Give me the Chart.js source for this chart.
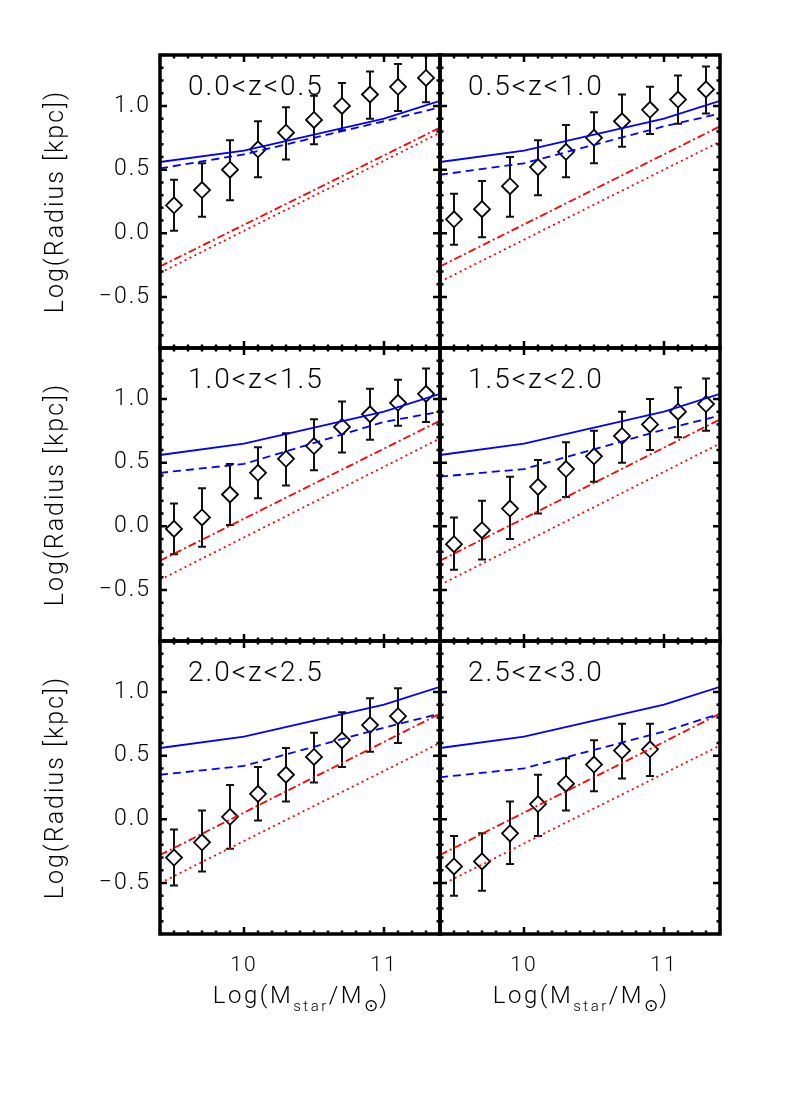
<!DOCTYPE html>
<html lang="en">
<head>
  <meta charset="UTF-8" />
  <title>Log(Radius) vs Log(Mstar) in redshift bins</title>
  <script src="https://cdn.jsdelivr.net/npm/chart.js@4.4.0/dist/chart.umd.min.js"></script>
  <style>
    body { margin: 0; background: #fff; }
    #wrap { position: relative; width: 800px; height: 1100px; }
    #wrap canvas { position: absolute; }
  </style>
</head>
<body>
<div id="wrap"></div>
<script>
  // panel labels (left to right, top to bottom)
  const zLabels = ['0.0<z<0.5', '0.5<z<1.0', '1.0<z<1.5', '1.5<z<2.0', '2.0<z<2.5', '2.5<z<3.0'];

  // observed median sizes per mass bin
  const massBins = [9.5, 9.7, 9.9, 10.1, 10.3, 10.5, 10.7, 10.9, 11.1, 11.3];
  const radiusMed = [
    [0.22, 0.34, 0.50, 0.66, 0.79, 0.89, 1.00, 1.09, 1.15, 1.22],
    [0.11, 0.19, 0.37, 0.52, 0.64, 0.75, 0.88, 0.97, 1.05, 1.13],
    [-0.02, 0.07, 0.25, 0.42, 0.53, 0.63, 0.78, 0.88, 0.97, 1.04],
    [-0.14, -0.03, 0.14, 0.31, 0.45, 0.55, 0.71, 0.80, 0.90, 0.96],
    [-0.30, -0.18, 0.02, 0.20, 0.35, 0.49, 0.62, 0.74, 0.81],
    [-0.37, -0.33, -0.11, 0.12, 0.28, 0.43, 0.54, 0.55]
  ];
  const radiusLo = [
    [0.02, 0.13, 0.26, 0.44, 0.58, 0.70, 0.81, 0.90, 0.96, 1.03],
    [-0.09, -0.03, 0.13, 0.30, 0.44, 0.55, 0.68, 0.78, 0.86, 0.94],
    [-0.22, -0.16, 0.01, 0.22, 0.32, 0.44, 0.58, 0.68, 0.79, 0.82],
    [-0.34, -0.26, -0.10, 0.10, 0.23, 0.35, 0.50, 0.60, 0.70, 0.75],
    [-0.52, -0.41, -0.23, -0.01, 0.14, 0.29, 0.41, 0.53, 0.60],
    [-0.60, -0.56, -0.35, -0.13, 0.07, 0.22, 0.32, 0.34]
  ];
  const radiusHi = [
    [0.42, 0.55, 0.73, 0.88, 0.99, 1.08, 1.18, 1.27, 1.33, 1.42],
    [0.31, 0.41, 0.60, 0.73, 0.85, 0.95, 1.09, 1.15, 1.24, 1.31],
    [0.18, 0.30, 0.49, 0.62, 0.73, 0.84, 0.98, 1.08, 1.15, 1.24],
    [0.07, 0.20, 0.39, 0.52, 0.66, 0.75, 0.90, 1.00, 1.09, 1.16],
    [-0.08, 0.07, 0.27, 0.41, 0.56, 0.68, 0.84, 0.95, 1.03],
    [-0.13, -0.11, 0.14, 0.35, 0.48, 0.62, 0.75, 0.75]
  ];

  // model relations
  const modelMass = [9.4, 10.0, 11.0, 11.4];
  const solidBlue = [0.56, 0.65, 0.90, 1.04];
  const dashedBlue = [
    [0.51, 0.62, 0.88, 0.99],
    [0.46, 0.55, 0.84, 0.94],
    [0.42, 0.49, 0.82, 0.90],
    [0.39, 0.45, 0.76, 0.87],
    [0.35, 0.42, 0.72, 0.83],
    [0.33, 0.40, 0.69, 0.83]
  ];
  const lineMass = [9.4, 11.4];
  const dashDotRed = [
    [-0.26, 0.83], [-0.26, 0.84], [-0.27, 0.83], [-0.27, 0.84], [-0.28, 0.83], [-0.28, 0.83]
  ];
  const dottedRed = [
    [-0.31, 0.79], [-0.38, 0.72], [-0.42, 0.69], [-0.46, 0.65], [-0.50, 0.60], [-0.52, 0.58]
  ];

  const xTicks = [10, 11];
  const yTicks = [-0.5, 0.0, 0.5, 1.0];

  // layout
  const colLeft = [160, 440], rowTop = [55, 348, 641];
  const PW = 280, PH = 293;
  const padL = 130, padT = 10, padR = 10, padB = 90;

  const FAM = 'Roboto, "Liberation Sans", sans-serif';
  Chart.defaults.font.family = FAM;
  Chart.defaults.font.weight = '300';
  Chart.defaults.color = '#000';

  const pts = (xs, ys) => xs.map((x, k) => ({ x: x, y: ys[k] }));

  function drawTicks(ctx, scale, a, horizontal, majors) {
    const n = Math.round((scale.max - scale.min) / 0.1);
    for (let k = 0; k <= n; k++) {
      const v = scale.min + k * 0.1;
      const isMajor = majors.some(m => Math.abs(m - v) < 1e-6);
      const len = isMajor ? 7 : 3.5;
      const p = scale.getPixelForValue(v);
      ctx.beginPath();
      if (horizontal) {
        ctx.moveTo(p, a.bottom); ctx.lineTo(p, a.bottom - len);
        ctx.moveTo(p, a.top); ctx.lineTo(p, a.top + len);
      } else {
        ctx.moveTo(a.left, p); ctx.lineTo(a.left + len, p);
        ctx.moveTo(a.right, p); ctx.lineTo(a.right - len, p);
      }
      ctx.stroke();
    }
  }

  function decor(i, row, col) {
    return {
      id: 'decor' + i,
      beforeDraw(chart) {
        chart.ctx.letterSpacing = '2px';
      },
      beforeDatasetsDraw(chart) {
        // error bars
        const { ctx, chartArea: a, scales: { x, y } } = chart;
        ctx.save();
        ctx.beginPath(); ctx.rect(a.left, a.top, a.width, a.height); ctx.clip();
        ctx.strokeStyle = '#111'; ctx.lineWidth = 2;
        radiusMed[i].forEach((m, k) => {
          const px = x.getPixelForValue(massBins[k]);
          const top = y.getPixelForValue(radiusHi[i][k]);
          const bot = y.getPixelForValue(radiusLo[i][k]);
          ctx.beginPath();
          ctx.moveTo(px, top); ctx.lineTo(px, bot);
          ctx.moveTo(px - 4, top); ctx.lineTo(px + 4, top);
          ctx.moveTo(px - 4, bot); ctx.lineTo(px + 4, bot);
          ctx.stroke();
        });
        ctx.restore();
      },
      afterDatasetsDraw(chart) {
        const { ctx, chartArea: a, scales: { x, y } } = chart;
        ctx.save();
        ctx.strokeStyle = '#000';
        ctx.lineWidth = 2.5;
        drawTicks(ctx, x, a, true, xTicks);
        drawTicks(ctx, y, a, false, yTicks);
        ctx.lineWidth = 3.5;
        ctx.strokeRect(a.left, a.top, a.width, a.height);

        // redshift label
        ctx.fillStyle = '#000';
        ctx.font = '300 28px ' + FAM;
        ctx.letterSpacing = '2px';
        ctx.textBaseline = 'alphabetic';
        ctx.textAlign = 'left';
        ctx.fillText(zLabels[i], a.left + 28, a.top + 40);

        // x axis title with subscripts
        if (row === 2) {
          const parts = [
            { t: 'Log(M', f: '300 24px ' + FAM, dy: 0, ls: '2.5px' },
            { t: 'star', f: '300 15px ' + FAM, dy: 8, ls: '2.5px' },
            { t: '/M', f: '300 24px ' + FAM, dy: 0, ls: '2.5px' },
            { t: '\u2299', f: '17px "DejaVu Sans"', dy: 8, ls: '1px' },
            { t: ')', f: '300 24px ' + FAM, dy: 0, ls: '0px' }
          ];
          let total = 0;
          parts.forEach(p => { ctx.font = p.f; ctx.letterSpacing = p.ls; p.w = ctx.measureText(p.t).width; total += p.w; });
          let cx = (a.left + a.right) / 2 - total / 2;
          const base = a.bottom + 69;
          parts.forEach(p => {
            ctx.font = p.f; ctx.letterSpacing = p.ls;
            ctx.fillText(p.t, cx, base + p.dy);
            cx += p.w;
          });
        }
        ctx.restore();
      }
    };
  }

  const wrap = document.getElementById('wrap');

  zLabels.forEach((label, i) => {
    const row = Math.floor(i / 2), col = i % 2;
    const cv = document.createElement('canvas');
    cv.width = PW + padL + padR;
    cv.height = PH + padT + padB;
    cv.style.left = (colLeft[col] - padL) + 'px';
    cv.style.top = (rowTop[row] - padT) + 'px';
    wrap.appendChild(cv);

    const n = radiusMed[i].length;

    new Chart(cv, {
      type: 'scatter',
      data: {
        datasets: [
          { data: pts(modelMass, solidBlue), showLine: true, borderColor: '#0000ff', borderWidth: 1.8, pointRadius: 0 },
          { data: pts(modelMass, dashedBlue[i]), showLine: true, borderColor: '#0000ff', borderWidth: 1.8, borderDash: [8, 5], pointRadius: 0 },
          { data: pts(lineMass, dashDotRed[i]), showLine: true, borderColor: '#ff0000', borderWidth: 1.8, borderDash: [8, 3, 2, 3], pointRadius: 0 },
          { data: pts(lineMass, dottedRed[i]), showLine: true, borderColor: '#ff0000', borderWidth: 1.8, borderDash: [2, 3.5], pointRadius: 0 },
          { data: pts(massBins.slice(0, n), radiusMed[i]), pointStyle: 'rectRot', pointRadius: 8,
            pointBorderWidth: 1.8, borderColor: '#000', backgroundColor: '#fff' }
        ]
      },
      options: {
        responsive: false,
        animation: false,
        events: [],
        layout: { padding: { top: padT, right: padR, left: 0, bottom: 0 } },
        plugins: { legend: { display: false }, tooltip: { enabled: false } },
        scales: {
          x: {
            type: 'linear', position: 'bottom', min: 9.4, max: 11.4,
            grid: { display: false, drawTicks: false },
            border: { display: false },
            afterBuildTicks: s => { s.ticks = xTicks.map(v => ({ value: v })); },
            afterFit: s => { s.height = padB; s.paddingLeft = 0; s.paddingRight = 0; },
            ticks: { display: row === 2, font: { size: 21 }, padding: 19, maxRotation: 0,
                     callback: v => String(v) }
          },
          y: {
            type: 'linear', position: 'left', min: -0.9, max: 1.4,
            grid: { display: false, drawTicks: false },
            border: { display: false },
            afterBuildTicks: s => { s.ticks = yTicks.map(v => ({ value: v })); },
            afterFit: s => { s.width = padL; s.paddingTop = 0; s.paddingBottom = 0; },
            ticks: { display: col === 0, font: { size: 23 }, padding: 9,
                     callback: v => v.toFixed(1).replace('-', '\u2212') },
            title: { display: col === 0, text: 'Log(Radius [kpc])', font: { size: 25 },
                     padding: { top: 12, bottom: 0 } }
          }
        }
      },
      plugins: [decor(i, row, col)]
    });
  });
</script>
</body>
</html>
